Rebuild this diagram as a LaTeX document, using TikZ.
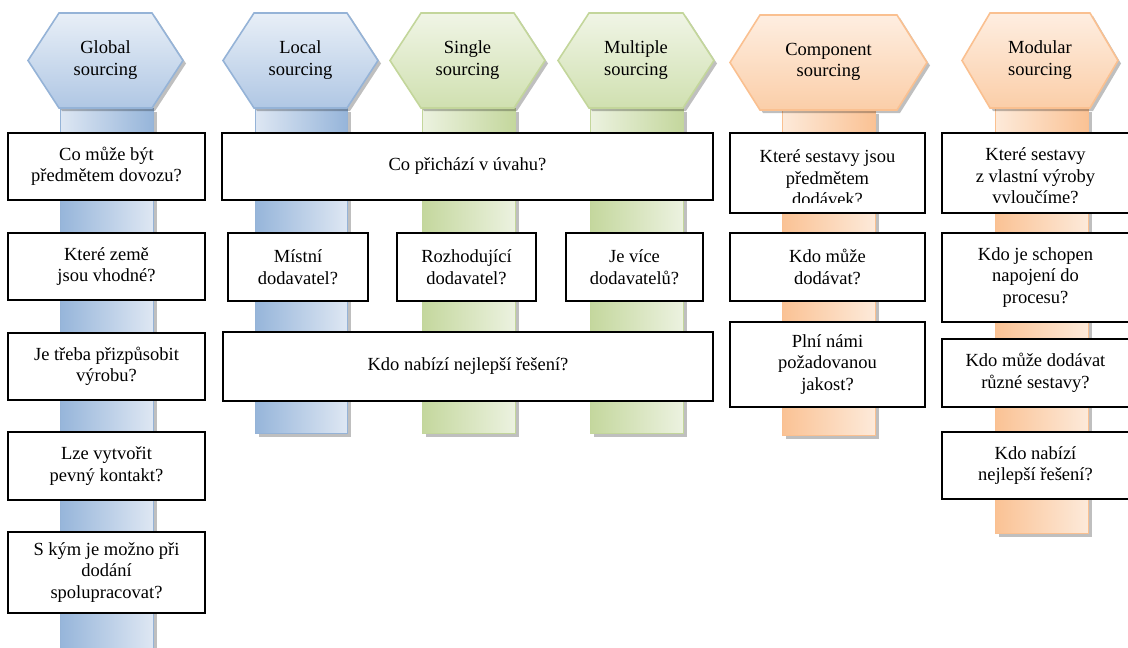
\documentclass[tikz,border=0pt]{standalone}
\usepackage{fontspec}
\setmainfont{Liberation Serif}
\usetikzlibrary{shadows}
\pgfdeclarelayer{edgelayer}
\pgfdeclarelayer{nodelayer}
\pgfsetlayers{edgelayer,nodelayer,main}
\definecolor{blueline}{RGB}{149,179,215}
\definecolor{bluetop}{RGB}{232,239,247}
\definecolor{bluebot}{RGB}{176,199,228}
\definecolor{bluedark}{RGB}{150,181,218}
\definecolor{bluelight}{RGB}{222,231,243}
\definecolor{greenline}{RGB}{195,214,155}
\definecolor{greentop}{RGB}{240,245,230}
\definecolor{greenbot}{RGB}{208,224,176}
\definecolor{greendark}{RGB}{196,215,157}
\definecolor{greenlight}{RGB}{236,242,224}
\definecolor{orangeline}{RGB}{250,192,144}
\definecolor{orangetop}{RGB}{254,238,225}
\definecolor{orangebot}{RGB}{251,206,168}
\definecolor{orangedark}{RGB}{250,194,148}
\definecolor{orangelight}{RGB}{253,234,218}
\tikzstyle{none}=[inner sep=0pt, align=center]
\tikzstyle{question}=[draw=black, line width=1.4pt, fill=white, inner sep=0pt, align=center]
\tikzstyle{hexa}=[line width=1.6pt, general shadow={shadow xshift=3pt, shadow yshift=-3pt, fill=black, opacity=0.25}]
\tikzstyle{pillar}=[line width=0.6pt, general shadow={shadow xshift=4pt, shadow yshift=-4pt, fill=black, opacity=0.25}]

\begin{document}
\begin{tikzpicture}[x=1pt, y=-1pt, font=\fontsize{18.5}{21.5}\selectfont]
	\useasboundingbox (0, 0) rectangle (1128, 648);
	\begin{pgfonlayer}{edgelayer}
		% pillars
		\path [style=pillar, draw=blueline, left color=bluedark, right color=bluelight] (60, 108) rectangle (153, 660);
		\path [draw=blueline, line width=0.6pt, left color=bluelight, right color=bluedark] (60, 108) rectangle (153, 133);
		\path [style=pillar, draw=blueline, left color=bluedark, right color=bluelight] (255, 108) rectangle (347, 433);
		\path [draw=blueline, line width=0.6pt, left color=bluelight, right color=bluedark] (255, 108) rectangle (347, 133);
		\path [style=pillar, draw=greenline, left color=greendark, right color=greenlight] (422, 108) rectangle (515, 433);
		\path [draw=greenline, line width=0.6pt, left color=greenlight, right color=greendark] (422, 108) rectangle (515, 133);
		\path [style=pillar, draw=greenline, left color=greendark, right color=greenlight] (590, 108) rectangle (683, 433);
		\path [draw=greenline, line width=0.6pt, left color=greenlight, right color=greendark] (590, 108) rectangle (683, 133);
		\path [style=pillar, draw=orangeline, left color=orangedark, right color=orangelight] (782, 110) rectangle (875, 435);
		\path [draw=orangeline, line width=0.6pt, left color=orangelight, right color=orangedark] (782, 110) rectangle (875, 133);
		\path [style=pillar, draw=orangeline, left color=orangedark, right color=orangelight] (995, 108) rectangle (1088, 533);
		\path [draw=orangeline, line width=0.6pt, left color=orangelight, right color=orangedark] (995, 108) rectangle (1088, 133);
		% hexagons
		\path [style=hexa, draw=blueline, top color=bluetop, bottom color=bluebot] (28, 60.5) -- (59, 13) -- (152, 13) -- (183, 60.5) -- (152, 108) -- (59, 108) -- cycle;
		\path [style=hexa, draw=blueline, top color=bluetop, bottom color=bluebot] (223, 60.5) -- (254, 13) -- (347, 13) -- (378, 60.5) -- (347, 108) -- (254, 108) -- cycle;
		\path [style=hexa, draw=greenline, top color=greentop, bottom color=greenbot] (390, 60.5) -- (421, 13) -- (514, 13) -- (545, 60.5) -- (514, 108) -- (421, 108) -- cycle;
		\path [style=hexa, draw=greenline, top color=greentop, bottom color=greenbot] (558, 60.5) -- (589, 13) -- (683, 13) -- (714, 60.5) -- (683, 108) -- (589, 108) -- cycle;
		\path [style=hexa, draw=orangeline, top color=orangetop, bottom color=orangebot] (730, 62.5) -- (760, 15) -- (897, 15) -- (927, 62.5) -- (897, 110) -- (760, 110) -- cycle;
		\path [style=hexa, draw=orangeline, top color=orangetop, bottom color=orangebot] (962, 60.5) -- (990, 13) -- (1090, 13) -- (1118, 60.5) -- (1090, 108) -- (990, 108) -- cycle;
	\end{pgfonlayer}
	\begin{pgfonlayer}{nodelayer}
		% headings
		\node [style=none] (h0) at (105.5, 60) {Global\\sourcing};
		\node [style=none] (h1) at (300.5, 60) {Local\\sourcing};
		\node [style=none] (h2) at (467.5, 60) {Single\\sourcing};
		\node [style=none] (h3) at (636, 60) {Multiple\\sourcing};
		\node [style=none] (h4) at (828.5, 62) {Component\\sourcing};
		\node [style=none] (h5) at (1040, 60) {Modular\\sourcing};
		% global sourcing
		\node [style=question, minimum width=197pt, minimum height=67pt] (g1) at (106.5, 166.5) {Co může být\\předmětem dovozu?};
		\node [style=question, minimum width=197pt, minimum height=67pt] (g2) at (106.5, 266.5) {Které země\\jsou vhodné?};
		\node [style=question, minimum width=197pt, minimum height=67pt] (g3) at (106.5, 366.5) {Je třeba přizpůsobit\\výrobu?};
		\node [style=question, minimum width=197pt, minimum height=68pt] (g4) at (106.5, 466) {Lze vytvořit\\pevný kontakt?};
		\node [style=question, minimum width=197pt, minimum height=81pt] (g5) at (106.5, 572.5) {S kým je možno při\\dodání\\spolupracovat?};
		% local, single, multiple sourcing
		\node [style=question, minimum width=491pt, minimum height=67pt] (s1) at (467.5, 166.5) {Co přichází v úvahu?};
		\node [style=question, minimum width=140pt, minimum height=68pt] (l2) at (298, 267) {Místní\\dodavatel?};
		\node [style=question, minimum width=139pt, minimum height=68pt] (s2) at (466.5, 267) {Rozhodující\\dodavatel?};
		\node [style=question, minimum width=137pt, minimum height=68pt] (m2) at (634.5, 267) {Je více\\dodavatelů?};
		\node [style=question, minimum width=490pt, minimum height=69pt] (s3) at (468, 366.5) {Kdo nabízí nejlepší řešení?};
		% component sourcing
		\node [style=question, minimum width=195pt, minimum height=80pt] (c1) at (827.5, 173) {};
		\node [style=question, minimum width=195pt, minimum height=68pt] (c2) at (827.5, 267) {Kdo může\\dodávat?};
		\node [style=question, minimum width=195pt, minimum height=85pt] (c3) at (827.5, 364.5) {Plní námi\\požadovanou\\jakost?};
		% modular sourcing
		\node [style=question, minimum width=187pt, minimum height=80pt] (d1) at (1035.5, 173) {};
		\node [style=question, minimum width=187pt, minimum height=89pt] (d2) at (1035.5, 277.5) {Kdo je schopen\\napojení do\\procesu?};
		\node [style=question, minimum width=187pt, minimum height=68pt] (d3) at (1035.5, 373) {Kdo může dodávat\\různé sestavy?};
		\node [style=question, minimum width=187pt, minimum height=67pt] (d4) at (1035.5, 465.5) {Kdo nabízí\\nejlepší řešení?};
	\end{pgfonlayer}
	% overflowing texts, cut inside the box
	\begin{scope}
		\clip (c1.north west) rectangle ([yshift=11pt]c1.south east);
		\node [style=none] (c1t) at ([yshift=-5pt]c1.center) {Které sestavy jsou\\předmětem\\dodávek?};
	\end{scope}
	\begin{scope}
		\clip (d1.north west) rectangle ([yshift=11pt]d1.south east);
		\node [style=none] (d1t) at ([yshift=-5pt]d1.center) {Které sestavy\\z vlastní výroby\\vyloučíme?};
	\end{scope}
\end{tikzpicture}
\end{document}
